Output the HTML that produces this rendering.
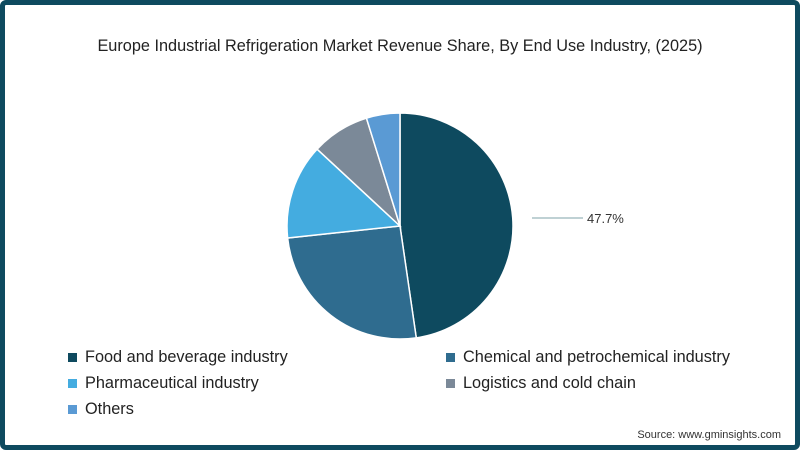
<!DOCTYPE html>
<html><head><meta charset="utf-8"><style>
html,body{margin:0;padding:0;background:#fff}
#wrap{position:relative;width:800px;height:450px;box-sizing:border-box;border:5px solid #0e4a5f;border-radius:6px;background:#fff;overflow:hidden;font-family:"Liberation Sans",sans-serif}
#title{position:absolute;left:0;width:790px;top:32px;text-align:center;font-size:16.3px;color:#222}
.leg{position:absolute;font-size:16.3px;color:#222;display:flex;align-items:center}
.sw{width:9px;height:9px;margin-right:8px;display:inline-block}
#src{position:absolute;right:14px;top:424px;font-size:11px;color:#333}
</style></head><body>
<div id="wrap">
<div id="title">Europe Industrial Refrigeration Market Revenue Share, By End Use Industry, (2025)</div>
<svg id="pie" width="790" height="440" style="position:absolute;left:0;top:0"></svg>
<div class="leg" style="left:63px;top:343px"><span class="sw" style="background:#0e4a5f"></span>Food and beverage industry</div>
<div class="leg" style="left:441px;top:343px"><span class="sw" style="background:#2f6c8f"></span>Chemical and petrochemical industry</div>
<div class="leg" style="left:63px;top:369px"><span class="sw" style="background:#44ace0"></span>Pharmaceutical industry</div>
<div class="leg" style="left:441px;top:369px"><span class="sw" style="background:#7b8998"></span>Logistics and cold chain</div>
<div class="leg" style="left:63px;top:395px"><span class="sw" style="background:#5a9ad4"></span>Others</div>
<div id="src">Source: www.gminsights.com</div>
</div>
<script>
const categories=["Food and beverage industry","Chemical and petrochemical industry","Pharmaceutical industry","Logistics and cold chain","Others"];
const shares=[47.7,25.6,13.6,8.3,4.8];
const labels=["47.7%","","","",""];
const colors=["#0e4a5f","#2f6c8f","#44ace0","#7b8998","#5a9ad4"];
const svg=document.getElementById('pie');
const NS="http://www.w3.org/2000/svg";
const cx=395,cy=221,r=113;
const total=shares.reduce((a,b)=>a+b,0);
function pt(f,rad){const a=f*2*Math.PI;return [cx+rad*Math.sin(a),cy-rad*Math.cos(a)];}
let acc=0;
shares.forEach((v,i)=>{
  const f0=acc/total,f1=(acc+v)/total;acc+=v;
  const p0=pt(f0,r),p1=pt(f1,r);
  const large=(f1-f0)>0.5?1:0;
  const p=document.createElementNS(NS,'path');
  p.setAttribute('d',`M${cx},${cy} L${p0[0]},${p0[1]} A${r},${r} 0 ${large} 1 ${p1[0]},${p1[1]} Z`);
  p.setAttribute('fill',colors[i]);p.setAttribute('stroke','#fff');p.setAttribute('stroke-width','1.5');
  
  
  svg.appendChild(p);
  if(labels[i]){
    const lx=cx+r+19;
    const ln=document.createElementNS(NS,'line');
    ln.setAttribute('x1',lx);ln.setAttribute('y1',cy-8);ln.setAttribute('x2',lx+51);ln.setAttribute('y2',cy-8);
    ln.setAttribute('stroke','#7fa3a8');ln.setAttribute('stroke-width','1');
    
    
    svg.appendChild(ln);
    const t=document.createElementNS(NS,'text');
    t.setAttribute('x',lx+55);t.setAttribute('y',cy-3);t.setAttribute('font-size','13');
    t.setAttribute('font-family','Liberation Sans, sans-serif');t.setAttribute('fill','#333');
    t.textContent=labels[i];
    
    
    svg.appendChild(t);
  }
});
</script>
</body></html>
